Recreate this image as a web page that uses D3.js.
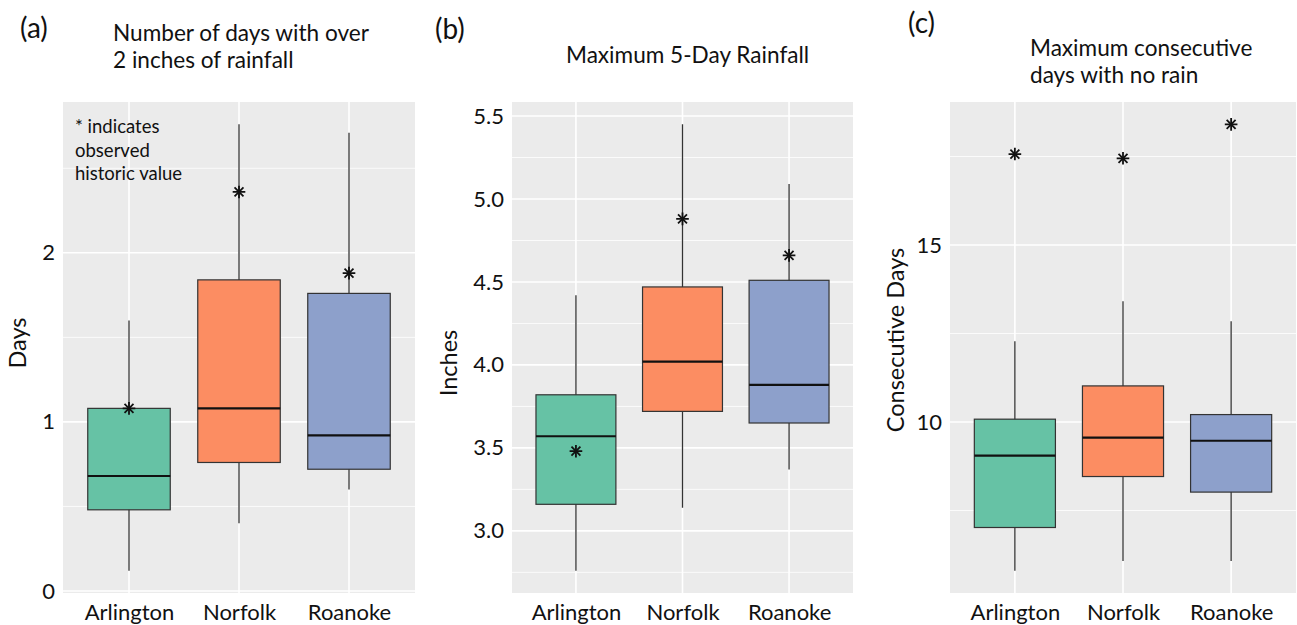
<!DOCTYPE html>
<html>
<head>
<meta charset="utf-8">
<script src="https://cdn.jsdelivr.net/npm/d3@7"></script>
<style>
  body { margin: 0; background: #fff; }
  text { font-family: Lato, "Open Sans", sans-serif; fill: #111; }
</style>
</head>
<body>
<svg id="chart" width="1297" height="625"></svg>
<script>
// categories shared by all three panels
const categories = ["Arlington", "Norfolk", "Roanoke"];

// (a) number of days with over 2 inches of rainfall
const daysLow = [0.12, 0.40, 0.60];
const daysQ1 = [0.48, 0.76, 0.72];
const daysMedian = [0.68, 1.08, 0.92];
const daysQ3 = [1.08, 1.84, 1.76];
const daysHigh = [1.60, 2.76, 2.71];
const daysObserved = [1.08, 2.36, 1.88];
const daysTicks = [0, 1, 2];

// (b) maximum 5-day rainfall, inches
const rainLow = [2.76, 3.14, 3.37];
const rainQ1 = [3.16, 3.72, 3.65];
const rainMedian = [3.57, 4.02, 3.88];
const rainQ3 = [3.82, 4.47, 4.51];
const rainHigh = [4.42, 5.45, 5.09];
const rainObserved = [3.48, 4.88, 4.66];
const rainTicks = [3.0, 3.5, 4.0, 4.5, 5.0, 5.5];

// (c) maximum consecutive days with no rain
const dryLow = [5.8, 6.07, 6.07];
const dryQ1 = [7.02, 8.46, 8.02];
const dryMedian = [9.05, 9.56, 9.47];
const dryQ3 = [10.08, 11.02, 10.21];
const dryHigh = [12.28, 13.41, 12.85];
const dryObserved = [17.57, 17.45, 18.41];
const dryTicks = [10, 15];

const fills = ["#66c2a5", "#fc8d62", "#8da0cb"];

function rows(lo, q1, med, q3, hi, obs) {
  return categories.map((c, i) => ({
    cat: c, lo: lo[i], q1: q1[i], med: med[i], q3: q3[i], hi: hi[i], obs: obs[i], fill: fills[i]
  }));
}

const panels = [
  {
    tag: "(a)", tagX: 20, tagY: 38,
    title: ["Number of days with over", "2 inches of rainfall"], titleX: 113, titleY: [41, 67.5],
    ylab: "Days", ylabX: 18, ylabY: 343,
    data: rows(daysLow, daysQ1, daysMedian, daysQ3, daysHigh, daysObserved),
    ticks: daysTicks, fmt: d3.format("d"),
    left: 63, right: 415, top: 102, bottom: 593
  },
  {
    tag: "(b)", tagX: 435, tagY: 39,
    title: ["Maximum 5-Day Rainfall"], titleX: 566, titleY: [63],
    ylab: "Inches", ylabX: 449, ylabY: 363,
    data: rows(rainLow, rainQ1, rainMedian, rainQ3, rainHigh, rainObserved),
    ticks: rainTicks, fmt: d3.format(".1f"),
    left: 512, right: 853, top: 102, bottom: 593
  },
  {
    tag: "(c)", tagX: 908, tagY: 33,
    title: ["Maximum consecutive", "days with no rain"], titleX: 1030, titleY: [56, 83],
    ylab: "Consecutive Days", ylabX: 896, ylabY: 340,
    data: rows(dryLow, dryQ1, dryMedian, dryQ3, dryHigh, dryObserved),
    ticks: dryTicks, fmt: d3.format("d"),
    left: 950, right: 1296, top: 102, bottom: 593
  }
];

const svg = d3.select("#chart");

// ggplot shape 8: plus + times
const plusPath = d3.symbol().type(d3.symbolPlus).size(54)();
const timesPath = d3.symbol().type(d3.symbolTimes).size(54)();

panels.forEach(p => {
  const lo = d3.min(p.data, d => Math.min(d.lo, d.obs));
  const hi = d3.max(p.data, d => Math.max(d.hi, d.obs));
  const pad = (hi - lo) * 0.05;

  const y = d3.scaleLinear().domain([lo - pad, hi + pad]).range([p.bottom, p.top]);
  const x = d3.scalePoint().domain(categories).range([p.left, p.right]).padding(0.6);
  const boxW = x.step() * 0.75;

  const g = svg.append("g");

  g.append("rect")
    .attr("x", p.left).attr("y", p.top)
    .attr("width", p.right - p.left).attr("height", p.bottom - p.top)
    .attr("fill", "#ebebeb");

  // minor grid: halfway between major ticks
  const step = p.ticks[1] - p.ticks[0];
  const minor = d3.range(p.ticks[0] - step / 2, hi + pad, step).filter(v => v > lo - pad);
  g.selectAll(".minor").data(minor).join("line")
    .attr("x1", p.left).attr("x2", p.right)
    .attr("y1", d => y(d)).attr("y2", d => y(d))
    .attr("stroke", "#fff").attr("stroke-width", 0.8);

  g.selectAll(".major").data(p.ticks).join("line")
    .attr("x1", p.left).attr("x2", p.right)
    .attr("y1", d => y(d)).attr("y2", d => y(d))
    .attr("stroke", "#fff").attr("stroke-width", 1.6);

  g.selectAll(".vgrid").data(categories).join("line")
    .attr("x1", d => x(d)).attr("x2", d => x(d))
    .attr("y1", p.top).attr("y2", p.bottom)
    .attr("stroke", "#fff").attr("stroke-width", 1.6);

  const box = g.selectAll(".box").data(p.data).join("g");

  box.append("line")
    .attr("x1", d => x(d.cat)).attr("x2", d => x(d.cat))
    .attr("y1", d => y(d.hi)).attr("y2", d => y(d.lo))
    .attr("stroke", "#333").attr("stroke-width", 1.3);

  box.append("rect")
    .attr("x", d => x(d.cat) - boxW / 2)
    .attr("y", d => y(d.q3))
    .attr("width", boxW)
    .attr("height", d => y(d.q1) - y(d.q3))
    .attr("fill", d => d.fill)
    .attr("stroke", "#333").attr("stroke-width", 1.2);

  box.append("line")
    .attr("x1", d => x(d.cat) - boxW / 2).attr("x2", d => x(d.cat) + boxW / 2)
    .attr("y1", d => y(d.med)).attr("y2", d => y(d.med))
    .attr("stroke", "#111").attr("stroke-width", 2.2);

  [plusPath, timesPath].forEach(path => {
    box.append("path")
      .attr("d", path)
      .attr("transform", d => `translate(${x(d.cat)},${y(d.obs)})`)
      .attr("fill", "none").attr("stroke", "#111").attr("stroke-width", 1.8);
  });

  // axes
  const yAxis = g.append("g")
    .attr("transform", `translate(${p.left},0)`)
    .call(d3.axisLeft(y).tickValues(p.ticks).tickFormat(p.fmt).tickSize(0).tickPadding(8));
  yAxis.select(".domain").remove();
  yAxis.selectAll("text").attr("font-size", 22).style("font-family", "Lato").attr("fill", "#111");

  const xAxis = g.append("g")
    .attr("transform", `translate(0,${p.bottom})`)
    .call(d3.axisBottom(x).tickSize(0).tickPadding(11));
  xAxis.select(".domain").remove();
  xAxis.selectAll("text").attr("font-size", 22).style("font-family", "Lato").attr("fill", "#111");

  // labels
  g.append("text")
    .attr("x", p.tagX).attr("y", p.tagY)
    .attr("font-size", 28)
    .text(p.tag);

  g.selectAll(".title").data(p.title).join("text")
    .attr("x", p.titleX).attr("y", (d, i) => p.titleY[i])
    .attr("font-size", 22.6)
    .text(d => d);

  g.append("text")
    .attr("transform", `translate(${p.ylabX},${p.ylabY}) rotate(-90)`)
    .attr("text-anchor", "middle").attr("dy", "0.35em")
    .attr("font-size", 23.5)
    .text(p.ylab);
});

// note inside panel (a)
const note = ["* indicates", "observed", "historic value"];
svg.append("g").selectAll("text").data(note).join("text")
  .attr("x", 75).attr("y", (d, i) => 133 + i * 23.5)
  .attr("font-size", 18.5)
  .text(d => d);
</script>
</body>
</html>
